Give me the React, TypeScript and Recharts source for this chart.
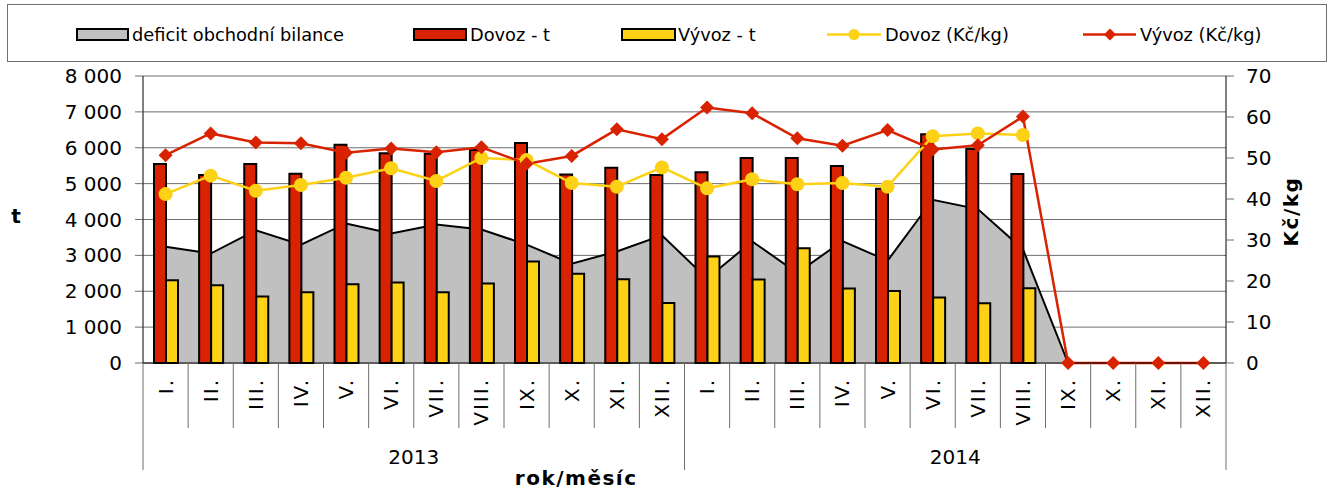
import React from 'react';
import { ComposedChart, Area, Bar, Line, XAxis, YAxis, CartesianGrid, Label } from 'recharts';

const months = ['I.', 'II.', 'III.', 'IV.', 'V.', 'VI.', 'VII.', 'VIII.', 'IX.', 'X.', 'XI.', 'XII.',
  'I.', 'II.', 'III.', 'IV.', 'V.', 'VI.', 'VII.', 'VIII.', 'IX.', 'X.', 'XI.', 'XII.'];
const years = ['2013', '2014'];

const deficit = [3240, 3050, 3700, 3300, 3890, 3610, 3860, 3720, 3300, 2770, 3110, 3560,
  2350, 3390, 2510, 3400, 2850, 4550, 4290, 3170, 0, null, null, null];
const dovozT = [5550, 5240, 5550, 5275, 6085, 5850, 5835, 5935, 6130, 5255, 5445, 5240,
  5320, 5715, 5715, 5490, 4855, 6375, 5965, 5265, null, null, null, null];
const vyvozT = [2310, 2170, 1855, 1975, 2195, 2245, 1975, 2215, 2830, 2485, 2335, 1675,
  2970, 2330, 3200, 2075, 2010, 1825, 1665, 2085, null, null, null, null];
const dovozKc = [41.2, 45.7, 42.0, 43.4, 45.2, 47.5, 44.4, 50.0, 49.5, 43.9, 43.0, 47.7,
  42.6, 44.8, 43.6, 43.9, 43.0, 55.3, 56.0, 55.6, null, null, null, null];
const vyvozKc = [50.7, 56.0, 53.8, 53.6, 51.3, 52.3, 51.4, 52.6, 48.6, 50.5, 57.0, 54.6,
  62.3, 60.9, 54.8, 53.0, 56.8, 52.1, 53.1, 60.1, 0, 0, 0, 0];

const leftTicks = [0, 1000, 2000, 3000, 4000, 5000, 6000, 7000, 8000];
const rightTicks = [0, 10, 20, 30, 40, 50, 60, 70];

const data = months.map((m, i) => ({
  month: m,
  deficit: deficit[i],
  dovozT: dovozT[i],
  vyvozT: vyvozT[i],
  dovozKc: dovozKc[i],
  vyvozKc: vyvozKc[i],
}));

const FONT = '"DejaVu Sans", Verdana, sans-serif';
const RED = '#D92200';
const YELLOW = '#FCD116';
const GRAY = '#C0C0C0';
const GRID = '#6E6E6E';

const W = 1332;
const H = 495;
const LEFT_W = 143;
const RIGHT_W = 106;
const TOP = 76;
const XAXIS_H = 132;
const BAND = (W - LEFT_W - RIGHT_W) / data.length;

const fmt = (v: number) => String(v).replace(/\B(?=(\d{3})+(?!\d))/g, ' ');

const MonthTick = (props: any) => {
  const { x, y, payload, index } = props;
  const i = index;
  const left = x - BAND / 2;
  const right = x + BAND / 2;
  const yearStart = i % 12 === 0;
  const last = i === data.length - 1;
  const ay = y + 15;
  return (
    <g>
      <line x1={left} x2={left} y1={y} y2={y + (yearStart ? 107 : 65)} stroke={GRID} strokeWidth={1} />
      {last && <line x1={right} x2={right} y1={y} y2={y + 107} stroke={GRID} strokeWidth={1} />}
      <text
        x={x}
        y={ay}
        transform={`rotate(-90, ${x}, ${ay})`}
        textAnchor="end"
        dominantBaseline="central"
        fontSize={20}
        letterSpacing={2}
        fontFamily={FONT}
        fill="#000"
      >
        {payload.value}
      </text>
      {i % 12 === 5 && (
        <text x={right} y={y + 94} textAnchor="middle" dominantBaseline="central" fontSize={20} fontFamily={FONT} fill="#000">
          {years[Math.floor(i / 12)]}
        </text>
      )}
    </g>
  );
};

const CircleDot = (props: any) => {
  const { cx, cy, index, value } = props;
  if (cx == null || cy == null || value == null) return <g key={`c${index}`} />;
  return <circle key={`c${index}`} cx={cx} cy={cy} r={7} fill={YELLOW} stroke="none" />;
};

const DiamondDot = (props: any) => {
  const { cx, cy, index, value } = props;
  if (cx == null || cy == null || value == null) return <g key={`d${index}`} />;
  const s = 7;
  return (
    <path
      key={`d${index}`}
      d={`M${cx},${cy - s}L${cx + s},${cy}L${cx},${cy + s}L${cx - s},${cy}Z`}
      fill={RED}
      stroke="none"
    />
  );
};

const legendText: React.CSSProperties = {
  position: 'absolute',
  top: 23,
  height: 22,
  lineHeight: '22px',
  fontSize: 17.8,
  fontFamily: FONT,
  color: '#000',
  whiteSpace: 'nowrap',
};

const swatch = (left: number, width: number, color: string): React.CSSProperties => ({
  position: 'absolute',
  left,
  top: 27,
  width,
  height: 13,
  boxSizing: 'border-box',
  border: '2px solid #000',
  background: color,
});

const LegendBox = () => (
  <div
    style={{
      position: 'absolute',
      left: 7,
      top: 4,
      width: 1320,
      height: 58,
      boxSizing: 'border-box',
      border: '1px solid #707070',
    }}
  >
    <div style={{ position: 'absolute', left: -7, top: -4, width: 1332, height: 60 }}>
      <div style={swatch(75, 53, GRAY)} />
      <div style={{ ...legendText, left: 131 }}>deficit obchodní bilance</div>
      <div style={swatch(412, 54, RED)} />
      <div style={{ ...legendText, left: 469 }}>Dovoz - t</div>
      <div style={swatch(620, 55, YELLOW)} />
      <div style={{ ...legendText, left: 677 }}>Vývoz - t</div>
      <svg style={{ position: 'absolute', left: 826, top: 23, overflow: 'visible' }} width={56} height={20}>
        <line x1={0} x2={54} y1={10.5} y2={10.5} stroke={YELLOW} strokeWidth={2.5} />
        <circle cx={27} cy={10.5} r={5.5} fill={YELLOW} />
      </svg>
      <div style={{ ...legendText, left: 884 }}>Dovoz (Kč/kg)</div>
      <svg style={{ position: 'absolute', left: 1082, top: 23, overflow: 'visible' }} width={56} height={20}>
        <line x1={0} x2={53} y1={10.5} y2={10.5} stroke={RED} strokeWidth={2.5} />
        <path d="M27,4.5L33,10.5L27,16.5L21,10.5Z" fill={RED} />
      </svg>
      <div style={{ ...legendText, left: 1139 }}>Vývoz (Kč/kg)</div>
    </div>
  </div>
);

export default function App() {
  return (
    <div style={{ position: 'absolute', left: 0, top: 0, width: W, height: H, background: '#fff', fontFamily: FONT }}>
      <ComposedChart
        width={W}
        height={H}
        data={data}
        margin={{ top: TOP, right: 0, bottom: 0, left: 0 }}
        barGap={0}
        style={{ fontFamily: FONT }}
      >
        <CartesianGrid yAxisId="left" vertical={false} stroke={GRID} strokeWidth={1} />
        <XAxis
          dataKey="month"
          height={XAXIS_H}
          interval={0}
          tickSize={0}
          tickMargin={0}
          tickLine={false}
          axisLine={{ stroke: '#000', strokeWidth: 1 }}
          tick={(p: any) => <MonthTick {...p} />}
        >
          <Label
            content={(p: any) => {
              const vb = p.viewBox || { x: LEFT_W, y: H - XAXIS_H, width: 1083, height: XAXIS_H };
              return (
                <text
                  x={vb.x + vb.width * 0.4}
                  y={vb.y + 122}
                  textAnchor="middle"
                  fontSize={20}
                  fontWeight="bold"
                  letterSpacing={1.5}
                  fontFamily={FONT}
                  fill="#000"
                >
                  rok/měsíc
                </text>
              );
            }}
          />
        </XAxis>
        <YAxis
          yAxisId="left"
          orientation="left"
          width={LEFT_W}
          domain={[0, 8000]}
          ticks={leftTicks}
          interval={0}
          tickSize={8}
          tickMargin={13}
          tickFormatter={fmt}
          axisLine={{ stroke: '#000', strokeWidth: 1 }}
          tickLine={{ stroke: GRID }}
          tick={{ fontSize: 20, fill: '#000', fontFamily: FONT }}
        >
          <Label
            content={(p: any) => {
              const vb = p.viewBox || { x: 0, y: TOP, width: LEFT_W, height: 287 };
              return (
                <text x={vb.x + 16} y={vb.y + vb.height / 2 + 3} textAnchor="middle" fontSize={20} fontWeight="bold" fontFamily={FONT} fill="#000">
                  t
                </text>
              );
            }}
          />
        </YAxis>
        <YAxis
          yAxisId="right"
          orientation="right"
          width={RIGHT_W}
          domain={[0, 70]}
          ticks={rightTicks}
          interval={0}
          tickSize={8}
          tickMargin={12}
          axisLine={{ stroke: '#000', strokeWidth: 1 }}
          tickLine={{ stroke: GRID }}
          tick={{ fontSize: 20, fill: '#000', fontFamily: FONT }}
        >
          <Label
            content={(p: any) => {
              const vb = p.viewBox || { x: W - RIGHT_W, y: TOP, width: RIGHT_W, height: 287 };
              const cx = vb.x + 65;
              const cy = vb.y + vb.height / 2 - 8;
              return (
                <text
                  x={cx}
                  y={cy}
                  transform={`rotate(-90, ${cx}, ${cy})`}
                  textAnchor="middle"
                  dominantBaseline="central"
                  fontSize={20}
                  fontWeight="bold"
                  letterSpacing={1.5}
                  fontFamily={FONT}
                  fill="#000"
                >
                  Kč/kg
                </text>
              );
            }}
          />
        </YAxis>
        <Area
          yAxisId="left"
          type="linear"
          dataKey="deficit"
          fill={GRAY}
          fillOpacity={1}
          stroke="#000"
          strokeWidth={2}
          dot={false}
          activeDot={false}
          isAnimationActive={false}
        />
        <Bar yAxisId="left" dataKey="dovozT" barSize={12} fill={RED} stroke="#000" strokeWidth={2} isAnimationActive={false} />
        <Bar yAxisId="left" dataKey="vyvozT" barSize={12} fill={YELLOW} stroke="#000" strokeWidth={2} isAnimationActive={false} />
        <Line
          yAxisId="right"
          type="linear"
          dataKey="dovozKc"
          stroke={YELLOW}
          strokeWidth={2.5}
          dot={CircleDot}
          activeDot={false}
          isAnimationActive={false}
        />
        <Line
          yAxisId="right"
          type="linear"
          dataKey="vyvozKc"
          stroke={RED}
          strokeWidth={2.5}
          dot={DiamondDot}
          activeDot={false}
          isAnimationActive={false}
        />
      </ComposedChart>
      <LegendBox />
    </div>
  );
}
